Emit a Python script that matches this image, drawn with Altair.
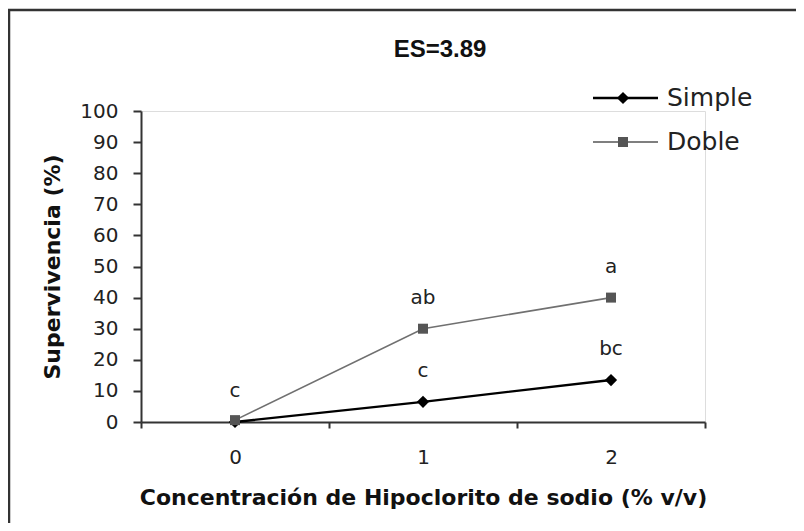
import altair as alt
import pandas as pd

# ---- data ----
conc = ["0", "1", "2"]
simple = [0.0, 6.5, 13.5]
doble = [0.6, 30.0, 40.0]
simple_letters = ["c", "c", "bc"]
doble_letters = ["", "ab", "a"]
series = ["Simple", "Doble"]
y_ticks = [0, 10, 20, 30, 40, 50, 60, 70, 80, 90, 100]
chart_title = ["ES=3.89"]

FONT = "DejaVu Sans"
W, H = 564, 311

df_s = pd.DataFrame({"conc": conc, "v": simple, "lab": simple_letters, "serie": series[0]})
df_d = pd.DataFrame({"conc": conc, "v": doble, "lab": doble_letters, "serie": series[1]})

x_enc = alt.X(
    "conc:O",
    scale=alt.Scale(type="band", domain=conc, paddingInner=0, paddingOuter=0),
    axis=alt.Axis(
        title="Concentración de Hipoclorito de sodio (% v/v)",
        titleFont=FONT, titleFontSize=22, titleFontWeight="bold", titleColor="#111",
        titleX=W / 2, titleY=75, titleBaseline="middle", titleAlign="center",
        labelAngle=0, labelFont=FONT, labelFontSize=20, labelColor="#222",
        labelPadding=19, tickBand="extent", tickSize=6, tickColor="#333",
        tickWidth=2, domainColor="#333", domainWidth=2, grid=False,
    ),
)
y_enc = alt.Y(
    "v:Q",
    scale=alt.Scale(domain=[0, 100], nice=False),
    axis=alt.Axis(
        title="Supervivencia (%)",
        titleFont=FONT, titleFontSize=22, titleFontWeight="bold", titleColor="#111",
        titleX=-89, titleY=H / 2, titleBaseline="middle", titleAlign="center", titleAngle=-90,
        values=y_ticks, labelFont=FONT, labelFontSize=20, labelColor="#222",
        labelPadding=15, tickSize=8, tickColor="#333", tickWidth=2,
        domainColor="#333", domainWidth=2, grid=False,
    ),
)

base_s = alt.Chart(df_s).encode(x=x_enc, y=y_enc)
base_d = alt.Chart(df_d).encode(x=x_enc, y=y_enc)

line_s = base_s.mark_line(color="#000000", strokeWidth=2.3)
pts_s = base_s.mark_point(shape="diamond", filled=True, size=150, color="#000000", opacity=1)
line_d = base_d.mark_line(color="#707070", strokeWidth=1.6)
pts_d = base_d.mark_point(shape="square", filled=True, size=100, color="#555555", opacity=1)

txt_s = base_s.mark_text(font=FONT, fontSize=20, color="#222", dy=-31, baseline="middle").encode(text="lab:N")
txt_d = base_d.mark_text(font=FONT, fontSize=20, color="#222", dy=-31, baseline="middle").encode(text="lab:N")

# outer frame (top and left edges; the rest lies outside the picture)
fd = alt.Chart(pd.DataFrame({"k": [0]}))
frame_top = fd.mark_rule(color="#333333", strokeWidth=2.5).encode(
    x=alt.value(-133), x2=alt.value(700), y=alt.value(-101))
frame_left = fd.mark_rule(color="#333333", strokeWidth=2.5).encode(
    x=alt.value(-132), y=alt.value(-102), y2=alt.value(500))

# chart title as text
title = alt.Chart(pd.DataFrame({"t": chart_title})).mark_text(
    font="Liberation Sans Narrow, Liberation Sans", fontSize=24, fontWeight="bold", color="#111",
    align="center", baseline="middle"
).encode(x=alt.value(299), y=alt.value(-61), text="t:N")

# custom legend
def legend_item(name, ypos, color, shape, size, lw):
    d = pd.DataFrame({"name": [name]})
    c = alt.Chart(d)
    rule = c.mark_rule(color=color, strokeWidth=lw).encode(
        x=alt.value(452), x2=alt.value(517), y=alt.value(ypos))
    pt = c.mark_point(shape=shape, filled=True, size=size, color=color, opacity=1).encode(
        x=alt.value(482), y=alt.value(ypos))
    tx = c.mark_text(font=FONT, fontSize=25, color="#222", align="left", baseline="middle").encode(
        x=alt.value(526), y=alt.value(ypos), text="name:N")
    return rule + pt + tx

leg_s = legend_item(series[0], -13, "#000000", "diamond", 150, 2.3)
leg_d = legend_item(series[1], 31, "#555555", "square", 100, 1.6)

chart = alt.layer(
    frame_top, frame_left, title, line_s, pts_s, line_d, pts_d, txt_s, txt_d, leg_s, leg_d
).properties(
    width=W, height=H,
    autosize=alt.AutoSizeParams(type="none"),
    padding={"left": 133, "top": 103, "right": 91, "bottom": 101},
).configure_view(stroke=None).configure(background="white")

chart.save("out.html", embed_options={"renderer": "svg", "actions": False})
